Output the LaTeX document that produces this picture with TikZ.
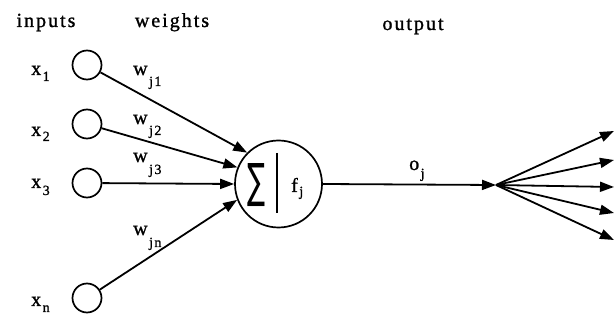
\documentclass[tikz,border=0pt]{standalone}
\usepackage{fontspec}
\usepackage{graphicx}
\setmainfont{Liberation Serif}[LetterSpace=10,FakeBold=1.2]
\newfontfamily\symfont{DejaVu Sans}
\usetikzlibrary{arrows.meta}
\newcommand\subx[3]{#1\kern1.5pt\raisebox{-#3}{\fontsize{14}{14}\selectfont #2}}
\begin{document}
\begin{tikzpicture}[x=1pt,y=-1pt,
  lbl/.style={inner sep=0pt,font=\fontsize{20}{20}\selectfont},
  inp/.style={draw,circle,minimum size=29pt,inner sep=0pt,line width=1.7pt},
  neuron/.style={draw,circle,minimum size=87pt,inner sep=0pt,line width=1.7pt},
  arr/.style={line width=1.8pt,-{Triangle[length=14pt,width=10pt]}}]
\useasboundingbox (0,0) rectangle (616,320);
% headers
\node[lbl,anchor=base] (tin) at (46,27) {inputs};
\node[lbl,anchor=base] (tw) at (172,27) {weights};
\node[lbl,anchor=base] (tout) at (413,30) {output};
% input circles
\node[inp] (x1) at (87,65) {};
\node[inp] (x2) at (87,124) {};
\node[inp] (x3) at (87,183) {};
\node[inp] (xn) at (87,298) {};
% input labels
\node[lbl,anchor=base west] (lx1) at (31,75) {\subx{x}{1}{6pt}};
\node[lbl,anchor=base west] (lx2) at (31,136) {\subx{x}{2}{5pt}};
\node[lbl,anchor=base west] (lx3) at (31,188) {\subx{x}{3}{7pt}};
\node[lbl,anchor=base west] (lxn) at (31,306) {\subx{x}{n}{6pt}};
% neuron
\node[neuron] (nj) at (278.5,184) {};
\node[inner sep=0pt] (sig) at (256,185) {\resizebox{18pt}{34pt}{\symfont ∑}};
\coordinate (bart) at (277,153);
\coordinate (barb) at (277,213);
\draw[line width=1.6pt] (bart) -- (barb);
\node[lbl,anchor=base west] (fj) at (291,192) {\subx{f}{j}{4pt}};
% weight labels
\node[lbl,anchor=base west] (w1) at (133,75) {\subx{w}{j1}{11pt}};
\node[lbl,anchor=base west] (w2) at (133,124) {\subx{w}{j2}{11pt}};
\node[lbl,anchor=base west] (w3) at (133,162) {\subx{w}{j3}{12pt}};
\node[lbl,anchor=base west] (wn) at (133,235) {\subx{w}{jn}{12pt}};
% input connectors
\draw[arr] (x1) -- (nj.135);
\draw[arr] (x2) -- (nj.158);
\draw[arr] (x3) -- (nj.180);
\draw[arr] (xn) -- (nj.201);
% output
\coordinate (hub) at (496,185);
\draw[arr] (nj.east) -- (hub);
\node[lbl,anchor=base west] (oj) at (409,170) {\subx{o}{j}{8pt}};
\coordinate (o1) at (614,131);
\coordinate (o2) at (614,160);
\coordinate (o3) at (614,187);
\coordinate (o4) at (614,213);
\coordinate (o5) at (614,240);
\foreach \t in {o1,o2,o3,o4,o5} \draw[arr] (hub) -- (\t);
\end{tikzpicture}
\end{document}
